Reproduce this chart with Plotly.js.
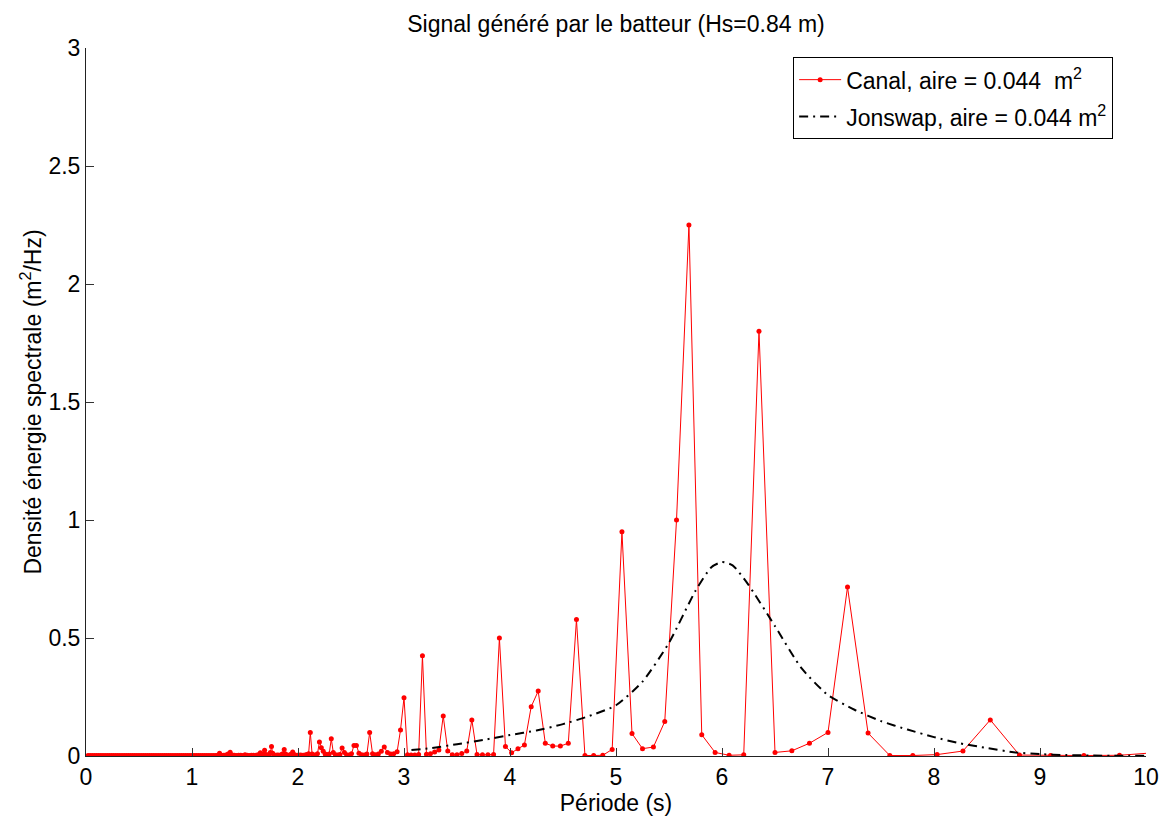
<!DOCTYPE html>
<html>
<head>
<meta charset="utf-8">
<script src="https://cdn.plot.ly/plotly-3.0.1.min.js"></script>
<style>html,body{margin:0;padding:0;background:#fff;}#chart{width:1162px;height:816px;}</style>
</head>
<body>
<div id="chart"></div>
<script>
// Low-period band (near-zero energy)
var lowPeriod = [0.02,0.04,0.06,0.08,0.10,0.12,0.14,0.16,0.18,0.20,
  0.22,0.24,0.26,0.28,0.30,0.32,0.34,0.36,0.38,0.40,
  0.42,0.44,0.46,0.48,0.50,0.52,0.54,0.56,0.58,0.60,
  0.62,0.64,0.66,0.68,0.70,0.72,0.74,0.76,0.78,0.80,
  0.82,0.84,0.86,0.88,0.90,0.92,0.94,0.96,0.98,1.00,
  1.02,1.04,1.06,1.08,1.10,1.12,1.14,1.16,1.18,1.20,
  1.22,1.24,1.26,1.28,1.30,1.32,1.34,1.36,1.38,1.40,
  1.42,1.44,1.46,1.48,1.50,1.52,1.54,1.56,1.58];
var lowDensity = [0.002,0.002,0.002,0.002,0.002,0.002,0.002,0.002,0.002,0.002,
  0.002,0.002,0.002,0.002,0.002,0.002,0.002,0.002,0.002,0.002,
  0.002,0.002,0.002,0.002,0.002,0.002,0.002,0.002,0.002,0.002,
  0.002,0.002,0.002,0.002,0.002,0.002,0.002,0.002,0.002,0.002,
  0.002,0.002,0.002,0.002,0.002,0.002,0.002,0.002,0.002,0.002,
  0.002,0.002,0.002,0.002,0.002,0.002,0.002,0.002,0.002,0.002,
  0.002,0.003,0.012,0.003,0.003,0.004,0.008,0.016,0.004,0.003,
  0.002,0.003,0.003,0.002,0.005,0.003,0.002,0.003,0.003];

// Harmonic periods of the measured spectrum (canal)
var canalPeriod = [1.606,1.615,1.625,1.635,1.645,1.655,1.665,1.675,1.685,1.696,
  1.706,1.717,1.728,1.739,1.750,1.761,1.773,1.784,1.796,1.808,
  1.820,1.832,1.845,1.857,1.870,1.883,1.896,1.909,1.923,1.936,
  1.950,1.964,1.978,1.993,2.007,2.022,2.037,2.053,2.068,2.084,
  2.100,2.116,2.133,2.150,2.167,2.184,2.202,2.220,2.238,2.256,
  2.275,2.294,2.314,2.333,2.353,2.374,2.395,2.416,2.438,2.459,
  2.482,2.505,2.528,2.551,2.575,2.600,2.625,2.650,2.676,2.703,
  2.730,2.758,2.786,2.814,2.844,2.874,2.904,2.935,2.967,3.000,
  3.033,3.067,3.102,3.138,3.174,3.212,3.250,3.289,3.329,3.370,
  3.413,3.456,3.500,3.545,3.592,3.640,3.689,3.740,3.792,3.845,
  3.900,3.957,4.015,4.075,4.136,4.200,4.266,4.333,4.403,4.475,
  4.550,4.627,4.707,4.789,4.875,4.964,5.056,5.151,5.250,5.353,
  5.460,5.571,5.688,5.809,5.935,6.067,6.205,6.349,6.500,6.659,
  6.825,7.000,7.184,7.378,7.583,7.800,8.029,8.273,8.531,8.806,
  9.100,9.414,9.750,10.111];
var canalDensity = [0.003,0.003,0.005,0.004,0.014,0.004,0.003,0.008,0.024,0.006,
  0.003,0.004,0.006,0.015,0.040,0.012,0.004,0.003,0.003,0.004,
  0.003,0.003,0.006,0.010,0.028,0.008,0.003,0.003,0.004,0.008,
  0.017,0.006,0.003,0.003,0.003,0.004,0.003,0.003,0.004,0.006,
  0.010,0.100,0.008,0.004,0.004,0.010,0.059,0.035,0.020,0.008,
  0.005,0.008,0.073,0.015,0.005,0.004,0.006,0.034,0.015,0.005,
  0.004,0.010,0.045,0.045,0.012,0.005,0.004,0.008,0.100,0.010,
  0.005,0.008,0.020,0.038,0.015,0.008,0.010,0.018,0.110,0.247,
  0.005,0.004,0.004,0.006,0.425,0.007,0.010,0.017,0.025,0.170,
  0.021,0.005,0.005,0.011,0.021,0.153,0.006,0.005,0.005,0.006,
  0.500,0.040,0.014,0.031,0.047,0.209,0.275,0.054,0.042,0.042,
  0.054,0.578,0.002,0.002,0.003,0.028,0.950,0.095,0.031,0.038,
  0.146,1.000,2.250,0.090,0.015,0.003,0.005,1.800,0.015,0.022,
  0.054,0.100,0.716,0.097,0.002,0.002,0.006,0.021,0.153,0.004,
  0.002,0.002,0.003,0.015];

// Jonswap theoretical spectrum
var jonswapPeriod = [3.07,3.25,3.5,3.75,4.0,4.25,4.5,4.75,5.0,5.25,5.5,5.75,5.9,6.0,6.1,6.25,6.5,6.75,7.0,7.25,7.5,7.75,8.0,8.25,8.5,8.75,9.0,9.25,9.5,9.75,10.0];
var jonswapDensity = [0.025,0.033,0.050,0.068,0.089,0.108,0.135,0.170,0.215,0.315,0.480,0.700,0.800,0.822,0.808,0.725,0.550,0.372,0.258,0.196,0.148,0.112,0.080,0.053,0.034,0.016,0.008,0.004,0.002,0.001,0.001];

var xTicks = [0,1,2,3,4,5,6,7,8,9,10];
var yTicks = [0,0.5,1,1.5,2,2.5,3];
var yTickText = ['0','0.5','1','1.5','2','2.5','3'];

var FONT = 'Liberation Sans, Arial, Helvetica, sans-serif';
var FS = 23;

var traces = [
  {
    x: lowPeriod.concat(canalPeriod),
    y: lowDensity.concat(canalDensity),
    type: 'scatter', mode: 'lines+markers',
    name: 'Canal, aire = 0.044  m<sup>2</sup>',
    legendgroup: 'a',
    line: {color: '#ff0000', width: 1},
    marker: {color: '#ff0000', size: 5, symbol: 'circle'}
  },
  {
    x: jonswapPeriod, y: jonswapDensity,
    type: 'scatter', mode: 'lines',
    name: 'Jonswap, aire = 0.044 m<sup>2</sup>',
    legendgroup: 'b',
    line: {color: '#000000', width: 2, dash: '9px,5px,2px,5px', shape: 'spline', smoothing: 0.6}
  }
];

var layout = {
  width: 1162, height: 816,
  paper_bgcolor: '#ffffff', plot_bgcolor: '#ffffff',
  margin: {l: 86, r: 16, t: 48, b: 60},
  font: {family: FONT, size: FS, color: '#000'},
  title: {text: 'Signal généré par le batteur (Hs=0.84 m)', x: 0.5, xref: 'paper', y: 0.971, yref: 'container', yanchor: 'middle', font: {family: FONT, size: FS, color: '#000'}},
  xaxis: {
    range: [0, 10], tickvals: xTicks, ticktext: xTicks.map(String),
    ticks: 'inside', ticklen: 8, tickcolor: '#333', showline: true, linecolor: '#222', linewidth: 1,
    showgrid: false, zeroline: false, mirror: false,
    tickfont: {family: FONT, size: FS, color: '#000'},
    title: {text: 'Période (s)', font: {family: FONT, size: FS, color: '#000'}, standoff: 0}
  },
  yaxis: {
    range: [0, 3], tickvals: yTicks, ticktext: yTickText,
    ticks: 'inside', ticklen: 8, tickcolor: '#333', showline: true, linecolor: '#222', linewidth: 1,
    showgrid: false, zeroline: false, mirror: false,
    tickfont: {family: FONT, size: FS, color: '#000'},
    title: {text: 'Densité énergie spectrale (m<sup>2</sup>/Hz)', font: {family: FONT, size: FS, color: '#000'}, standoff: 0}
  },
  showlegend: true,
  legend: {
    x: 0.969, xanchor: 'right', y: 0.987, yanchor: 'top',
    bgcolor: '#ffffff', bordercolor: '#000', borderwidth: 1,
    font: {family: FONT, size: FS, color: '#000'},
    traceorder: 'grouped', tracegroupgap: 4, itemwidth: 42
  }
};

Plotly.newPlot('chart', traces, layout, {displayModeBar: false, staticPlot: true});
</script>
</body>
</html>
